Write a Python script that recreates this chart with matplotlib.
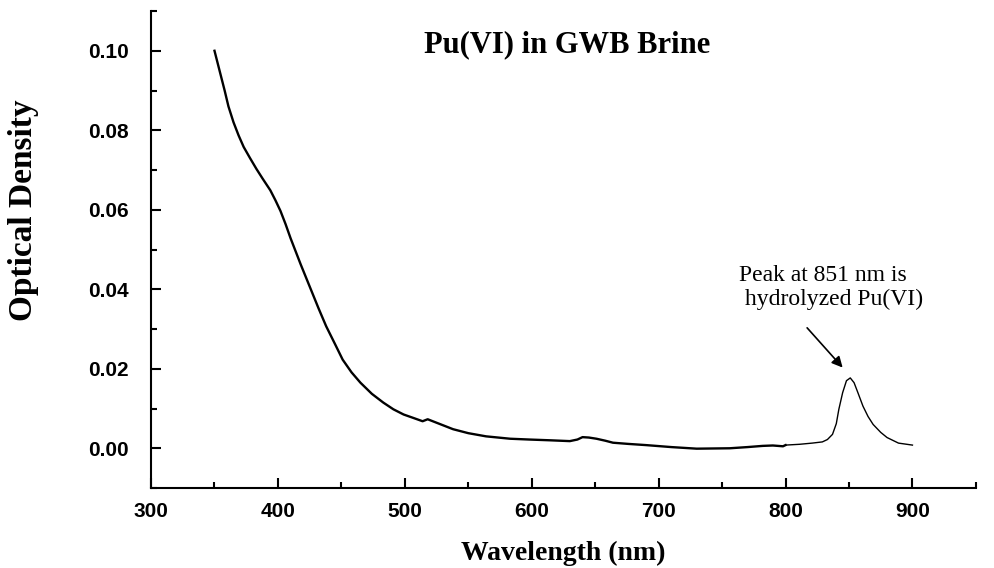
import matplotlib.pyplot as plt
from matplotlib.ticker import MultipleLocator

# main scan (noisier detector range)
wl_scan = [350, 354, 358, 361, 365, 369, 373, 378, 383, 388, 394, 398, 402,
           406, 410, 418, 425, 432, 438, 445, 451, 458, 465, 474, 483, 491,
           499, 507, 514, 518, 522, 530, 538, 550, 564, 583, 598, 615, 630,
           636, 640, 645, 651, 658, 664, 676, 690, 710, 730, 756, 770, 782,
           790, 798, 800]
od_scan = [0.1000, 0.0950, 0.0900, 0.0860, 0.0820, 0.0787, 0.0758, 0.0730,
           0.0703, 0.0678, 0.0649, 0.0624, 0.0597, 0.0564, 0.0528, 0.0462,
           0.0407, 0.0352, 0.0307, 0.0262, 0.0223, 0.0191, 0.0165, 0.0137,
           0.0115, 0.0098, 0.0085, 0.0076, 0.0068, 0.0073, 0.0068, 0.0058,
           0.0048, 0.0038, 0.0030, 0.0024, 0.0022, 0.0020, 0.0018, 0.0022,
           0.0028, 0.0027, 0.0024, 0.0019, 0.0014, 0.0011, 0.0008, 0.0003,
           -0.0001, 0.0000, 0.0003, 0.0006, 0.0007, 0.0005, 0.0008]

# near-IR part with the 851 nm peak
wl_ir = [800, 811, 821, 829, 833, 837, 840, 842, 845, 848, 851, 854, 857,
         861, 865, 869, 875, 880, 889, 900]
od_ir = [0.0008, 0.0010, 0.0013, 0.0016, 0.0022, 0.0035, 0.0062, 0.0098,
         0.0140, 0.0170, 0.0177, 0.0165, 0.0140, 0.0106, 0.0080, 0.0060,
         0.0040, 0.0027, 0.0013, 0.0008]

x_ticks = [300, 400, 500, 600, 700, 800, 900]
y_ticks = [0.00, 0.02, 0.04, 0.06, 0.08, 0.10]

serif = 'Liberation Serif'
sans = 'Liberation Sans'

fig = plt.figure(figsize=(9.95, 5.68), dpi=100)
ax = fig.add_axes([0.1518, 0.1408, 0.829, 0.8398])

ax.plot(wl_scan, od_scan, color='black', lw=1.7)
ax.plot(wl_ir, od_ir, color='black', lw=1.0)

ax.set_xlim(300, 950)
ax.set_ylim(-0.01, 0.11)
ax.set_xticks(x_ticks)
ax.set_yticks(y_ticks)
ax.xaxis.set_minor_locator(MultipleLocator(50))
ax.yaxis.set_minor_locator(MultipleLocator(0.01))
ax.set_xticklabels([str(v) for v in x_ticks], fontfamily=sans, fontweight='bold', fontsize=15)
ax.set_yticklabels(['%.2f' % v for v in y_ticks], fontfamily=sans, fontweight='bold', fontsize=15)

for s in ['top', 'right']:
    ax.spines[s].set_visible(False)
for s in ['left', 'bottom']:
    ax.spines[s].set_linewidth(1.5)
ax.tick_params(which='major', direction='in', length=7.5, width=1.5)
ax.tick_params(which='minor', direction='in', length=4.5, width=1.5)
ax.tick_params(axis='x', pad=10)
ax.tick_params(axis='y', pad=16)

ax.set_xlabel('Wavelength (nm)', fontfamily=serif, fontweight='bold', fontsize=20)
ax.xaxis.set_label_coords(0.5, -0.151)
ax.xaxis.label.set_va('baseline')
ax.set_ylabel('Optical Density', fontfamily=serif, fontweight='bold', fontsize=24)
ax.yaxis.set_label_coords(-0.136, 0.583)

ax.text(0.504, 0.914, 'Pu(VI) in GWB Brine', transform=ax.transAxes, ha='center',
        va='baseline', fontfamily=serif, fontweight='bold', fontsize=22)

ax.text(763, 0.0461, 'Peak at 851 nm is\n hydrolyzed Pu(VI)', ha='left', va='top',
        fontfamily=serif, fontsize=17, linespacing=1.15)
ax.annotate('', xy=(845, 0.0203), xytext=(817, 0.0303),
            arrowprops=dict(arrowstyle='-|>', color='black', lw=1.2,
                            mutation_scale=16, shrinkA=0, shrinkB=0))

fig.savefig('out.png', dpi=100)
